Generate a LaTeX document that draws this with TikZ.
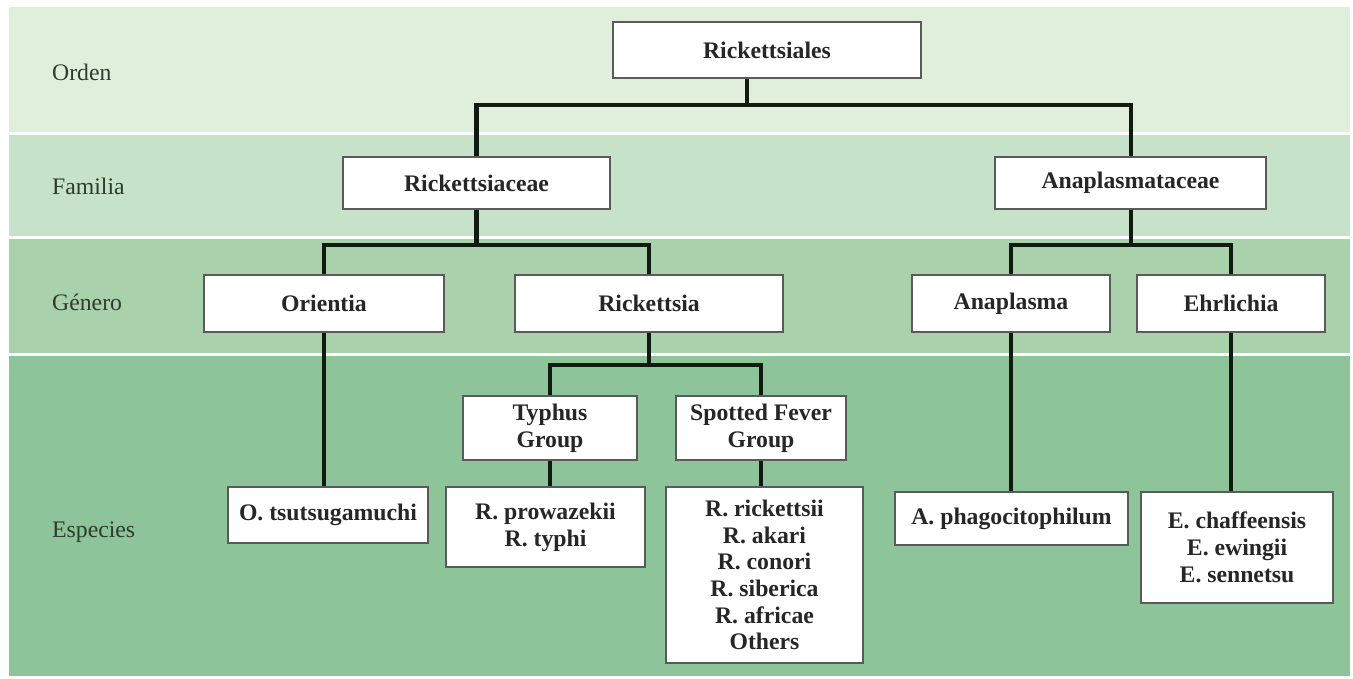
\documentclass[tikz,border=0pt]{standalone}
\usepackage{fontspec}
\setmainfont{Liberation Serif}
\usetikzlibrary{calc}
\definecolor{BandOrden}{HTML}{E0EEDC}
\definecolor{BandFamilia}{HTML}{C6E2C8}
\definecolor{BandGenero}{HTML}{A9D1AB}
\definecolor{BandEspecies}{HTML}{8DC499}
\definecolor{Ink}{HTML}{111A11}
\definecolor{BoxEdge}{HTML}{5A5A5A}
\definecolor{RankText}{HTML}{2F3B2F}
\newcommand{\taxfont}{\fontsize{13.5}{15.2}\selectfont}
\tikzset{
  taxon/.style={draw=BoxEdge,fill=white,line width=0.8pt,inner sep=2pt,align=center,font=\taxfont\bfseries,text=black!85},
  rank/.style={anchor=west,font=\taxfont,text=RankText},
  link/.style={draw=Ink,line width=2.3pt},
}

\begin{document}
\begin{tikzpicture}[x=1cm,y=1cm]
    \useasboundingbox[fill=white] (0,0) rectangle (27.06,13.58);

    % rank bands
    \fill[BandOrden]    (0.18,13.44) rectangle (27.00,10.94);
    \fill[BandFamilia]  (0.18,10.88) rectangle (27.00,8.86);
    \fill[BandGenero]   (0.18,8.80)  rectangle (27.00,6.52);
    \fill[BandEspecies] (0.18,6.46)  rectangle (27.00,0.06);

    \node[rank] (rorden)    at (0.92,12.14) {Orden};
    \node[rank] (rfamilia)  at (0.92,9.86)  {Familia};
    \node[rank] (rgenero)   at (0.92,7.54)  {Género};
    \node[rank] (respecies) at (0.92,2.94)  {Especies};

    % orden / familia
    \node[taxon,minimum width=6.16cm,minimum height=1.12cm] (ord) at (15.34,12.58) {Rickettsiales};
    \node[taxon,minimum width=5.34cm,minimum height=1.04cm] (fam1) at (9.53,9.92) {Rickettsiaceae};
    \node[taxon,minimum width=5.42cm,minimum height=1.04cm] (fam2) at (22.61,9.92) {Anaplasmataceae};

    % genero
    \node[taxon,minimum width=4.80cm,minimum height=1.14cm] (gen1) at (6.48,7.51) {Orientia};
    \node[taxon,minimum width=5.36cm,minimum height=1.14cm] (gen2) at (12.98,7.51) {Rickettsia};
    \node[taxon,minimum width=3.96cm,minimum height=1.14cm] (gen3) at (20.22,7.51) {Anaplasma};
    \node[taxon,minimum width=3.76cm,minimum height=1.14cm] (gen4) at (24.62,7.51) {Ehrlichia};

    \node[taxon,minimum width=3.48cm,minimum height=1.28cm] (grp1) at (11.00,5.02) {Typhus\\Group};
    \node[taxon,minimum width=3.40cm,minimum height=1.28cm] (grp2) at (15.22,5.02) {Spotted Fever\\Group};

    % especies
    \node[taxon,minimum width=4.00cm,minimum height=1.12cm] (sp1) at (6.56,3.28) {O. tsutsugamuchi};
    \node[taxon,minimum width=3.98cm,minimum height=1.60cm] (sp2) at (10.91,3.04) {R. prowazekii\\R. typhi};
    \node[taxon,minimum width=3.94cm,minimum height=3.52cm] (sp3) at (15.29,2.08)
      {R. rickettsii\\R. akari\\R. conori\\R. siberica\\R. africae\\Others};
    \node[taxon,minimum width=4.66cm,minimum height=1.06cm] (sp4) at (20.23,3.21) {A. phagocitophilum};
    \node[taxon,minimum width=3.84cm,minimum height=2.22cm] (sp5) at (24.74,2.63) {E. chaffeensis\\E. ewingii\\E. sennetsu};

    % tree links
    \coordinate (j0) at (14.94,11.48);
    \coordinate (j1) at (9.53,8.68);
    \coordinate (j2) at (22.61,8.68);
    \coordinate (j3) at (12.98,6.28);

    \draw[link] (ord.south -| j0) -- (j0);
    \draw[link] (fam1.north) |- (j0) -| (fam2.north);
    \draw[link] (fam1.south) -- (j1);
    \draw[link] (gen1.north) |- (j1) -| (gen2.north);
    \draw[link] (fam2.south) -- (j2);
    \draw[link] (gen3.north) |- (j2) -| (gen4.north);
    \draw[link] (gen2.south) -- (j3);
    \draw[link] (grp1.north) |- (j3) -| (grp2.north);

    \draw[link] (gen1.south) -- (sp1.north -| gen1.south);
    \draw[link] (grp1.south) -- (sp2.north -| grp1.south);
    \draw[link] (grp2.south) -- (sp3.north -| grp2.south);
    \draw[link] (gen3.south) -- (sp4.north -| gen3.south);
    \draw[link] (gen4.south) -- (sp5.north -| gen4.south);
  \end{tikzpicture}
\end{document}
